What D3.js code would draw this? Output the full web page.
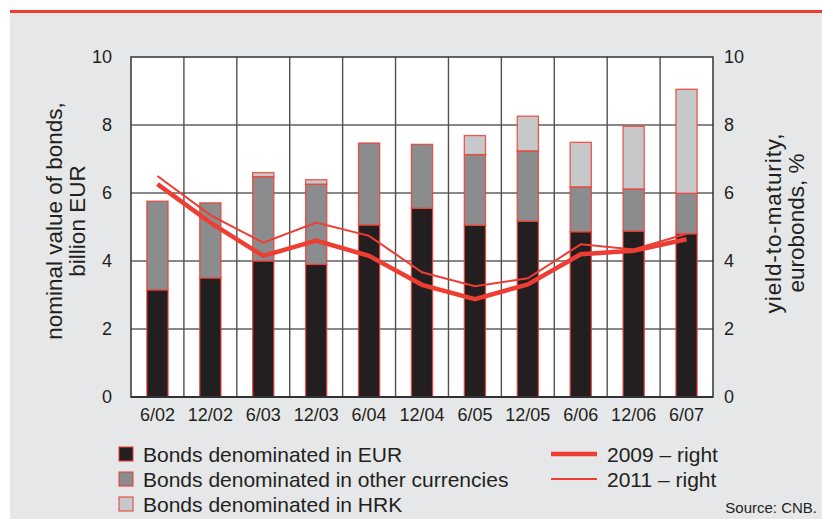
<!DOCTYPE html>
<html>
<head>
<meta charset="utf-8">
<script src="https://cdn.jsdelivr.net/npm/d3@7"></script>
<style>
  html, body { margin: 0; padding: 0; background: #fff; }
  svg { display: block; }
  text { font-family: "Liberation Sans", Arial, sans-serif; fill: #231f20; }
</style>
</head>
<body>
<div id="chart"></div>
<script>
// data
var categories = ["6/02", "12/02", "6/03", "12/03", "6/04", "12/04", "6/05", "12/05", "6/06", "12/06", "6/07"];
var bondsEUR   = [3.15, 3.50, 4.00, 3.90, 5.06, 5.55, 5.05, 5.17, 4.86, 4.88, 4.80];
var bondsOther = [2.61, 2.21, 2.48, 2.36, 2.41, 1.88, 2.08, 2.07, 1.32, 1.24, 1.19];
var bondsHRK   = [0.00, 0.00, 0.12, 0.13, 0.00, 0.00, 0.56, 1.02, 1.31, 1.84, 3.06];
var yield2009  = [6.26, 5.13, 4.15, 4.60, 4.15, 3.30, 2.88, 3.31, 4.20, 4.30, 4.64];
var yield2011  = [6.50, 5.35, 4.54, 5.13, 4.74, 3.67, 3.26, 3.49, 4.49, 4.34, 4.80];
var leftTicks  = [0, 2, 4, 6, 8, 10];
var rightTicks = [0, 2, 4, 6, 8, 10];

var W = 822, H = 519;
var margin = { left: 131, right: 109, top: 57, bottom: 122 };
var red = "#ee3e34";
var fills = ["#231f20", "#8b8c8e", "#c7c8ca"];
var barLabels = ["Bonds denominated in EUR", "Bonds denominated in other currencies", "Bonds denominated in HRK"];

var svg = d3.select("#chart").append("svg")
  .attr("width", W).attr("height", H);

// panel
svg.append("rect").attr("x", 10).attr("y", 12).attr("width", W - 10).attr("height", H - 12)
  .attr("fill", "#e6e7e8");
svg.append("line").attr("x1", 10).attr("x2", W).attr("y1", 11.5).attr("y2", 11.5)
  .attr("stroke", red).attr("stroke-width", 3);

var x = d3.scaleBand().domain(categories).range([margin.left, W - margin.right]).padding(0);
var y = d3.scaleLinear().domain([0, 10]).range([H - margin.bottom, margin.top]);
var y2 = d3.scaleLinear().domain([0, 10]).range([H - margin.bottom, margin.top]);

var g = svg.append("g");
g.append("rect").attr("x", x.range()[0]).attr("y", y(10))
  .attr("width", x.range()[1] - x.range()[0]).attr("height", y(0) - y(10))
  .attr("fill", "#fff");

// grid
g.selectAll(".hgrid").data(leftTicks.filter(function(d) { return d > 0 && d < 10; }))
  .enter().append("line")
  .attr("x1", x.range()[0]).attr("x2", x.range()[1])
  .attr("y1", function(d) { return y(d); }).attr("y2", function(d) { return y(d); })
  .attr("stroke", "#606060").attr("stroke-width", 1.4);
g.selectAll(".vgrid").data(categories.slice(1))
  .enter().append("line")
  .attr("x1", function(d) { return x(d); }).attr("x2", function(d) { return x(d); })
  .attr("y1", y(10)).attr("y2", y(0))
  .attr("stroke", "#505050").attr("stroke-width", 1.4);

// stacked bars
var table = categories.map(function(c, i) {
  return { cat: c, eur: bondsEUR[i], other: bondsOther[i], hrk: bondsHRK[i] };
});
var stack = d3.stack().keys(["eur", "other", "hrk"]);
var series = stack(table);
var bw = x.bandwidth() * 0.4;

g.selectAll(".series").data(series).enter().append("g")
  .attr("fill", function(d, i) { return fills[i]; })
  .selectAll("rect").data(function(d) { return d.filter(function(p) { return p[1] - p[0] > 0; }); })
  .enter().append("rect")
  .attr("x", function(d) { return x(d.data.cat) + (x.bandwidth() - bw) / 2; })
  .attr("y", function(d) { return y(d[1]); })
  .attr("width", bw)
  .attr("height", function(d) { return y(d[0]) - y(d[1]); })
  .attr("stroke", red).attr("stroke-width", 1.3).attr("stroke-opacity", 0.85);

// frame
g.append("rect").attr("x", x.range()[0]).attr("y", y(10))
  .attr("width", x.range()[1] - x.range()[0]).attr("height", y(0) - y(10))
  .attr("fill", "none").attr("stroke", "#333").attr("stroke-width", 1.5);
g.append("line").attr("x1", x.range()[0]).attr("x2", x.range()[1])
  .attr("y1", y(0)).attr("y2", y(0)).attr("stroke", "#333").attr("stroke-width", 2);

// yield lines
var line = d3.line()
  .x(function(d, i) { return x(categories[i]) + x.bandwidth() / 2; })
  .y(function(d) { return y2(d); });
g.append("path").datum(yield2011).attr("d", line)
  .attr("fill", "none").attr("stroke", red).attr("stroke-width", 2);
g.append("path").datum(yield2009).attr("d", line)
  .attr("fill", "none").attr("stroke", red).attr("stroke-width", 4.5);

// axes
var leftAxis = svg.append("g").attr("transform", "translate(" + x.range()[0] + ",0)")
  .call(d3.axisLeft(y).tickValues(leftTicks).tickSize(0).tickPadding(19));
var rightAxis = svg.append("g").attr("transform", "translate(" + x.range()[1] + ",0)")
  .call(d3.axisRight(y2).tickValues(rightTicks).tickSize(0).tickPadding(11));
var bottomAxis = svg.append("g").attr("transform", "translate(0," + y(0) + ")")
  .call(d3.axisBottom(x).tickSize(0).tickPadding(11));
[leftAxis, rightAxis, bottomAxis].forEach(function(a) {
  a.select(".domain").remove();
  a.selectAll("text").attr("font-size", 18).style("font-family", "Liberation Sans, Arial, sans-serif")
    .attr("fill", "#231f20");
});

// axis titles
function vtitle(cx, cy, lines, spacing) {
  var t = svg.append("text")
    .attr("transform", "translate(" + cx + "," + cy + ") rotate(-90)")
    .attr("text-anchor", "middle").attr("font-size", 22.5);
  lines.forEach(function(s, i) {
    t.append("tspan").attr("x", 0).attr("dy", i === 0 ? 0 : 23)
      .attr("letter-spacing", spacing[i]).text(s);
  });
}
vtitle(62, 221, ["nominal value of bonds,", "billion EUR"], [0, 0]);
vtitle(781, 223, ["yield-to-maturity,", "eurobonds, %"], [0.9, 0]);

// legend
var leg = svg.append("g");
barLabels.forEach(function(s, i) {
  var ly = 454 + i * 25;
  leg.append("rect").attr("x", 119).attr("y", ly - 7).attr("width", 14).attr("height", 14)
    .attr("fill", fills[i]).attr("stroke", red).attr("stroke-width", 1.3).attr("stroke-opacity", 0.8);
  leg.append("text").attr("x", 143).attr("y", ly + 7.5).attr("font-size", 21).text(s);
});
[["2009 \u2013 right", 4.5], ["2011 \u2013 right", 2]].forEach(function(d, i) {
  var ly = 454 + i * 25;
  leg.append("line").attr("x1", 551).attr("x2", 597).attr("y1", ly).attr("y2", ly)
    .attr("stroke", red).attr("stroke-width", d[1]);
  leg.append("text").attr("x", 607).attr("y", ly + 7.5).attr("font-size", 21).text(d[0]);
});
svg.append("text").attr("x", 817).attr("y", 513).attr("text-anchor", "end")
  .attr("font-size", 15).text("Source: CNB.");
</script>
</body>
</html>
